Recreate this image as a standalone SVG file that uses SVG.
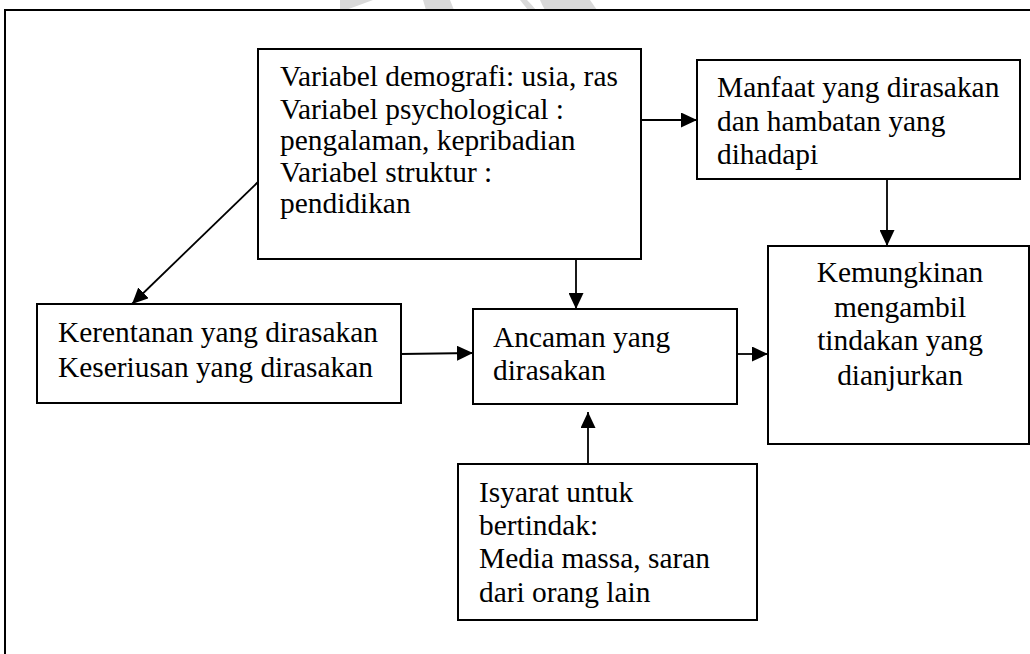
<svg xmlns="http://www.w3.org/2000/svg" width="1030" height="654" viewBox="0 0 1030 654">
<style>
.box{fill:#fff;stroke:#000;stroke-width:2}
.t{font-family:'Liberation Serif','Times New Roman',serif;font-size:29.4px;fill:#000}
.c{fill:none;stroke:#000;stroke-width:1.8}
.wm{fill:#d9d9d9}
</style>
<defs>
<marker id="ah" markerUnits="userSpaceOnUse" markerWidth="16" markerHeight="15" refX="16" refY="7.5" orient="auto">
<path d="M0,0 L16,7.5 L0,15 Z" fill="#000"/>
</marker>
</defs>
<rect width="1030" height="654" fill="#fff"/>
<g id="watermark">
<path class="wm" d="M340,0 H373 L346,10 H340 Z"/>
<path class="wm" d="M423,0 H450 Q452,5 454,10 H426 Z"/>
<path class="wm" d="M520,0 H527 Q532,5 536,10 H528 Z"/>
<path class="wm" d="M540,0 H590 L597,10 H545 Q542,5 540,0 Z"/>
</g>
<rect id="frame" x="5" y="10" width="1040" height="660" fill="none" stroke="#000" stroke-width="2"/>
<g id="connectors">
<path class="c" d="M641,120 H697" marker-end="url(#ah)"/>
<path class="c" d="M887,179 V246" marker-end="url(#ah)"/>
<path class="c" d="M258,182 L132,304" marker-end="url(#ah)"/>
<path class="c" d="M576,259 V309" marker-end="url(#ah)"/>
<path class="c" d="M401,354 L473,353" marker-end="url(#ah)"/>
<path class="c" d="M737,354 H768" marker-end="url(#ah)"/>
<path class="c" d="M588,464 V412" marker-end="url(#ah)"/>
</g>
<g id="variabel">
<rect class="box" x="258" y="49" width="383" height="210"/>
<text class="t" x="280" y="86">Variabel demografi: usia, ras</text>
<text class="t" x="280" y="119">Variabel psychological :</text>
<text class="t" x="280" y="150">pengalaman, kepribadian</text>
<text class="t" x="280" y="182">Variabel struktur :</text>
<text class="t" x="280" y="213">pendidikan</text>
</g>
<g id="manfaat">
<rect class="box" x="697" y="60" width="323" height="119"/>
<text class="t" x="717" y="97">Manfaat yang dirasakan</text>
<text class="t" x="717" y="131">dan hambatan yang</text>
<text class="t" x="717" y="164">dihadapi</text>
</g>
<g id="kemungkinan">
<rect class="box" x="768" y="246" width="261" height="198"/>
<text class="t" x="900" y="282" text-anchor="middle">Kemungkinan</text>
<text class="t" x="900" y="317" text-anchor="middle">mengambil</text>
<text class="t" x="900" y="350" text-anchor="middle">tindakan yang</text>
<text class="t" x="900" y="385" text-anchor="middle">dianjurkan</text>
</g>
<g id="kerentanan">
<rect class="box" x="37" y="304" width="364" height="99"/>
<text class="t" x="58" y="342">Kerentanan yang dirasakan</text>
<text class="t" x="58" y="377">Keseriusan yang dirasakan</text>
</g>
<g id="ancaman">
<rect class="box" x="473" y="309" width="264" height="95"/>
<text class="t" x="493" y="347">Ancaman yang</text>
<text class="t" x="493" y="380">dirasakan</text>
</g>
<g id="isyarat">
<rect class="box" x="458" y="464" width="299" height="156"/>
<text class="t" x="479" y="502">Isyarat untuk</text>
<text class="t" x="479" y="535">bertindak:</text>
<text class="t" x="479" y="568">Media massa, saran</text>
<text class="t" x="479" y="602">dari orang lain</text>
</g>
</svg>
